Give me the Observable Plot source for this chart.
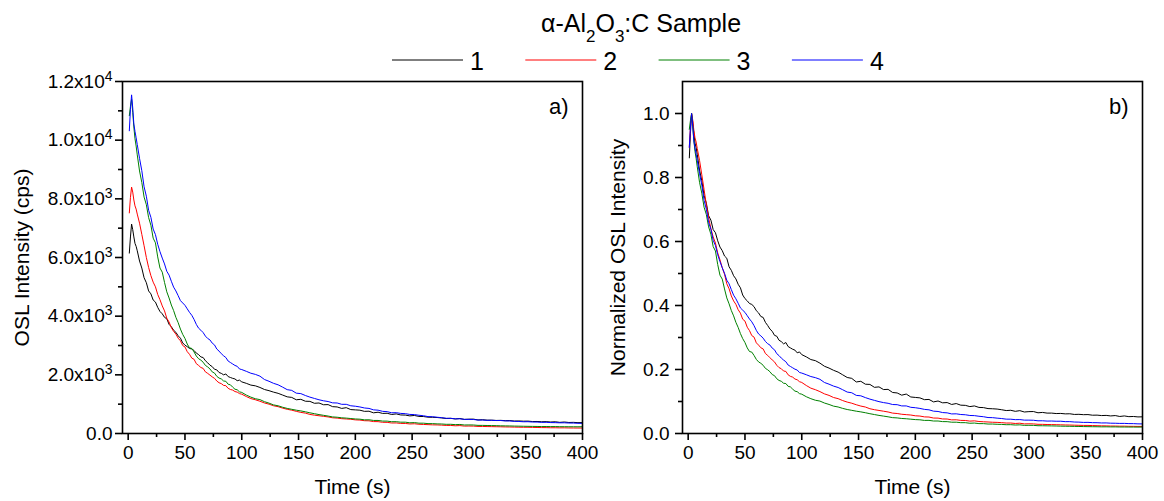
<!DOCTYPE html>
<html>
<head>
<meta charset="utf-8">
<script src="https://cdn.jsdelivr.net/npm/d3@7"></script>
<script src="https://cdn.jsdelivr.net/npm/@observablehq/plot@0.6"></script>
<style>
  html, body { margin: 0; padding: 0; background: #fff; }
  #wrap { position: relative; width: 1164px; height: 501px; overflow: hidden; font-family: "Liberation Sans", Arial, sans-serif; }
  #legend { position: absolute; left: 0; top: 0; width: 1164px; height: 80px; z-index: 3; }
  .panel { position: absolute; top: 0; }
  .panel svg { max-width: none !important; }
</style>
</head>
<body>
<div id="wrap">
  <div id="pa" class="panel" style="left:0px;width:600px;"></div>
  <div id="pb" class="panel" style="left:582px;width:582px;"></div>
  <div id="legend"></div>
</div>
<script>
const FONT = "Liberation Sans, Arial, sans-serif";

// ---- data ----
const seriesNames = ["1", "2", "3", "4"];
const seriesColors = ["#000000", "#ff0000", "#008000", "#0000ff"];
const legendTitleParts = ["α-Al", "2", "O", "3", ":C Sample"];

const times = [
  1,2,3,4,5,6,7,8,
  10,12,14,16,18,20,22,24,26,28,30,32,34,36,38,40,42,44,46,48,50,52,54,56,
  58,60,62,64,66,68,70,72,74,76,78,80,82,84,86,88,90,92,94,96,98,100,
  104,108,112,116,120,124,128,132,136,140,144,148,152,156,160,164,168,172,176,180,184,188,192,196,200,
  204,208,212,216,220,224,228,232,236,240,244,248,252,256,260,264,268,272,276,280,284,288,292,296,300,
  304,308,312,316,320,324,328,332,336,340,344,348,352,356,360,364,368,372,376,380,384,388,392,396,400];

const sample1 = [
  6150,6700,7140,6950,6700,6480,6380,6230,
  5880,5640,5310,5140,4860,4760,4550,4480,4300,4160,4080,3960,3910,3720,3640,3520,3450,3330,3250,3090,3010,2960,2900,2880,
  2830,2740,2690,2610,2590,2480,2410,2330,2280,2190,2170,2080,2050,2000,2030,1940,1910,1880,1860,1800,1820,1760,
  1710,1650,1625,1570,1500,1460,1410,1370,1310,1250,1230,1150,1165,1100,1095,1030,1040,980,985,915,905,855,880,815,805,
  795,755,760,705,725,685,690,648,668,632,628,600,615,582,578,556,552,545,530,512,518,495,510,480,488,
  490,462,470,455,455,445,448,438,440,425,428,420,422,408,410,400,404,392,400,380,392,376,380,370,372];
const sample2 = [
  7520,8050,8400,8230,7960,7760,7650,7480,
  7170,6790,6400,6000,5660,5380,5160,5000,4740,4560,4350,4180,3930,3800,3610,3480,3390,3250,3160,3000,2950,2790,2700,2570,
  2530,2380,2320,2250,2220,2100,2050,1990,1930,1880,1790,1730,1700,1640,1630,1540,1500,1480,1430,1410,1360,1340,
  1260,1190,1150,1100,1040,1000,945,915,865,825,795,755,720,695,650,625,605,585,565,535,525,505,495,485,465,
  458,436,432,406,404,382,380,358,360,344,342,325,332,315,308,302,295,292,285,275,275,263,270,252,255,
  252,241,240,236,234,231,228,224,222,218,215,212,212,208,205,201,200,196,196,192,193,189,188,186,186];
const sample3 = [
  10835,11150,11400,10950,10450,10050,9800,9500,
  8950,8560,8060,7800,7360,7100,6660,6500,6020,5640,5500,5150,4830,4620,4380,4190,3960,3780,3560,3380,3240,3050,2920,2900,
  2780,2640,2550,2500,2430,2320,2270,2200,2100,2060,1950,1890,1860,1790,1780,1680,1660,1580,1510,1490,1420,1400,
  1310,1240,1185,1155,1085,1035,975,945,895,855,825,795,770,740,705,675,645,620,595,565,555,535,525,510,495,
  488,466,468,445,445,424,422,402,403,386,386,365,372,352,352,337,337,328,324,313,314,302,308,290,292,
  290,277,276,273,270,267,262,259,257,253,250,247,244,242,240,237,238,235,236,232,232,230,230,228,230];
const sample4 = [
  10320,11050,11545,11100,10550,10300,10080,9850,
  9380,8960,8410,8090,7610,7370,6970,6780,6450,6200,5980,5780,5530,5400,5190,4990,4860,4700,4530,4450,4370,4250,4130,4030,
  3890,3720,3590,3520,3440,3320,3240,3190,3080,3020,2880,2810,2720,2650,2590,2470,2420,2370,2320,2290,2200,2180,
  2120,2055,2015,1955,1840,1780,1710,1660,1580,1495,1470,1375,1360,1295,1240,1195,1150,1115,1090,1045,1040,995,995,945,930,
  905,870,855,806,795,755,745,706,710,685,676,650,645,622,605,576,572,554,540,518,516,500,502,482,482,
  478,458,459,448,450,442,443,428,428,414,410,400,402,391,390,380,382,372,370,364,365,357,356,348,346];
const samples = [sample1, sample2, sample3, sample4];

const xTicks = [0, 50, 100, 150, 200, 250, 300, 350, 400];
const xMinor = [25, 75, 125, 175, 225, 275, 325, 375];
const yTicksA = [0, 2000, 4000, 6000, 8000, 10000, 12000];
const yTickLabelsA = ["0.0", "2.0x10^3", "4.0x10^3", "6.0x10^3", "8.0x10^3", "1.0x10^4", "1.2x10^4"];
const yMinorA = [1000, 3000, 5000, 7000, 9000, 11000];
const yTicksB = [0, 0.2, 0.4, 0.6, 0.8, 1.0];
const yTickLabelsB = ["0.0", "0.2", "0.4", "0.6", "0.8", "1.0"];
const yMinorB = [0.1, 0.3, 0.5, 0.7, 0.9];

samples.forEach((s, i) => { if (s.length !== times.length) throw new Error("length mismatch series " + (i + 1) + ": " + s.length + " vs " + times.length); });

// ---- tables ----
const rowsA = [], rowsB = [];
samples.forEach((vals, i) => {
  const m = d3.max(vals);
  vals.forEach((v, j) => {
    rowsA.push({s: seriesNames[i], t: times[j], v});
    rowsB.push({s: seriesNames[i], t: times[j], v: v / m});
  });
});

function superscripts(svg) {
  d3.select(svg).selectAll("text").each(function() {
    const s = this.textContent;
    const m = s.match(/^(.*)\^(\d+)$/);
    if (!m) return;
    const t = d3.select(this);
    t.text(null);
    t.append("tspan").text(m[1]);
    t.append("tspan").attr("font-size", "14px").attr("dy", -7).text(m[2]);
  });
}

function panel({width, marginLeft, marginRight, rows, yDomain, yTicks, yLabels, yMinor, yPad, yTitle, yTitleDx, tag}) {
  const svg = Plot.plot({
    width, height: 501,
    marginLeft, marginRight, marginTop: 81, marginBottom: 68,
    style: {fontFamily: FONT, fontSize: "19px", background: "transparent", color: "black", overflow: "visible"},
    x: {domain: [-5, 400]},
    y: {domain: yDomain},
    color: {domain: seriesNames, range: seriesColors},
    marks: [
      Plot.line(rows, {x: "t", y: "v", z: "s", stroke: "s", strokeWidth: 1}),
      Plot.frame({stroke: "black", strokeWidth: 1.6}),
      Plot.axisX({ticks: xTicks, tickSize: 7, tickPadding: 5, tickFormat: d => String(d), label: null, strokeWidth: 1.6, fontSize: 19}),
      Plot.axisX({ticks: xMinor, tickSize: 4, tickFormat: () => "", label: null, strokeWidth: 1.6}),
      Plot.axisY({ticks: yTicks, tickSize: 7, tickPadding: yPad, tickFormat: d => yLabels[yTicks.indexOf(d)], label: null, strokeWidth: 1.6, fontSize: 19}),
      Plot.axisY({ticks: yMinor, tickSize: 4, tickFormat: () => "", label: null, strokeWidth: 1.6}),
      Plot.text([yTitle], {text: d => d, frameAnchor: "left", textAnchor: "middle", dx: yTitleDx, rotate: -90, fontSize: 21}),
      Plot.text(["Time (s)"], {text: d => d, frameAnchor: "bottom", textAnchor: "middle", dy: 60, fontSize: 21}),
      Plot.text([tag], {text: d => d, frameAnchor: "top-right", dx: -14, dy: 17, textAnchor: "end", fontSize: 22})
    ]
  });
  superscripts(svg);
  return svg;
}

document.getElementById("pa").append(panel({
  width: 600, marginLeft: 122, marginRight: 18, rows: rowsA, yDomain: [0, 12000],
  yTicks: yTicksA, yLabels: yTickLabelsA, yMinor: yMinorA, yPad: 3,
  yTitle: "OSL Intensity (cps)", yTitleDx: -100, tag: "a)"
}));
document.getElementById("pb").append(panel({
  width: 582, marginLeft: 100, marginRight: 22, rows: rowsB, yDomain: [0, 1.1],
  yTicks: yTicksB, yLabels: yTickLabelsB, yMinor: yMinorB, yPad: 6,
  yTitle: "Normalized OSL Intensity", yTitleDx: -64, tag: "b)"
}));

// ---- legend ----
const leg = d3.select("#legend").append("svg")
  .attr("width", 1164).attr("height", 80)
  .style("font-family", FONT).style("display", "block");
const title = leg.append("text").attr("x", 641).attr("y", 32)
  .attr("text-anchor", "middle").attr("font-size", 25).attr("fill", "black");
legendTitleParts.forEach((p, i) => {
  const sub = i % 2 === 1;
  const ts = title.append("tspan").text(p);
  if (sub) ts.attr("font-size", 17).attr("dy", 10);
  else if (i > 0) ts.attr("dy", -10);
});
seriesNames.forEach((n, i) => {
  const x0 = 392 + i * 133.3;
  leg.append("line").attr("x1", x0).attr("x2", x0 + 71).attr("y1", 60).attr("y2", 60)
    .attr("stroke", seriesColors[i]).attr("stroke-width", 1);
  leg.append("text").attr("x", x0 + 78).attr("y", 70).attr("font-size", 25).attr("fill", "black").text(n);
});
</script>
</body>
</html>
